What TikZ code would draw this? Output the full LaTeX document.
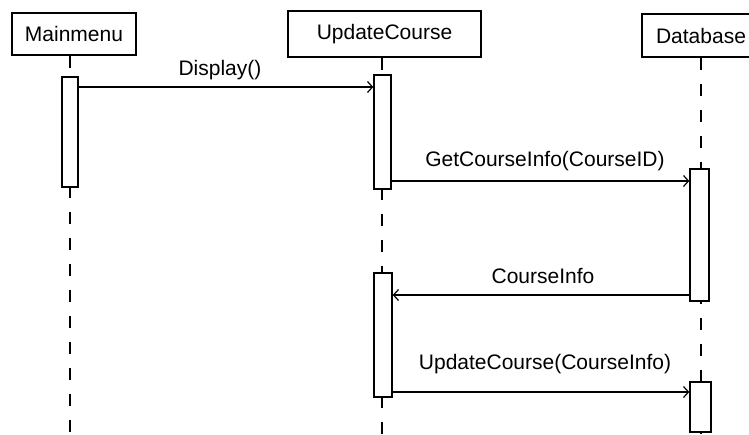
\documentclass[tikz,border=0pt]{standalone}
\usepackage{fontspec}
\setmainfont{Liberation Sans}
\usetikzlibrary{arrows.meta}
\begin{document}
\begin{tikzpicture}[x=1pt,y=-1pt,
  objbox/.style={draw, line width=1.4pt, fill=white, inner sep=0pt, font=\fontsize{21}{24}\selectfont},
  actbox/.style={draw, line width=1.4pt, fill=white, inner sep=0pt},
  life/.style={line width=1.4pt, dash pattern=on 12pt off 14pt},
  msg/.style={line width=1.3pt, -{Straight Barb[length=5pt,width=11pt,line width=1.2pt]}},
  lbl/.style={inner sep=0pt, font=\fontsize{21}{24}\selectfont}]
\clip (0,0) rectangle (749,434);
\fill[white] (0,0) rectangle (749,434);
% object boxes
\node[objbox, minimum width=124pt, minimum height=42pt] (mm) at (74,34) {Mainmenu};
\node[objbox, minimum width=193pt, minimum height=46pt] (uc) at (384.5,34) {UpdateCourse};
\node[objbox, minimum width=118pt, minimum height=43pt] (db) at (701,35.5) {Database};
% lifeline ends
\coordinate (mmend) at (70,434);
\coordinate (ucend) at (382,434);
\coordinate (dbend) at (701,434);
\draw[life] (mm.south -| mmend) -- (mmend);
\draw[life] (uc.south -| ucend) -- (ucend);
\draw[life] (db.south -| dbend) -- (dbend);
% activations
\node[actbox, minimum width=16pt, minimum height=110pt] (a1) at (70,132) {};
\node[actbox, minimum width=17pt, minimum height=114pt] (a2) at (382.5,132) {};
\node[actbox, minimum width=19pt, minimum height=132pt] (a3) at (699.5,235) {};
\node[actbox, minimum width=18pt, minimum height=124pt] (a4) at (383,335) {};
\node[actbox, minimum width=21pt, minimum height=50pt] (a5) at (700.5,407) {};
% message heights
\coordinate (m1) at (0,87);
\coordinate (m2) at (0,181);
\coordinate (m3) at (0,295);
\coordinate (m4) at (0,392);
\draw[msg] (a1.east |- m1) -- (a2.west |- m1);
\draw[msg] (a2.east |- m2) -- (a3.west |- m2);
\draw[msg] (a3.west |- m3) -- (a4.east |- m3);
\draw[msg] (a4.east |- m4) -- (a5.west |- m4);
% labels
\node[lbl] (l1) at (220,70) {Display()};
\node[lbl] (l2) at (545,161) {GetCourseInfo(CourseID)};
\node[lbl] (l3) at (543,276) {CourseInfo};
\node[lbl] (l4) at (545,364) {UpdateCourse(CourseInfo)};
\end{tikzpicture}
\end{document}
